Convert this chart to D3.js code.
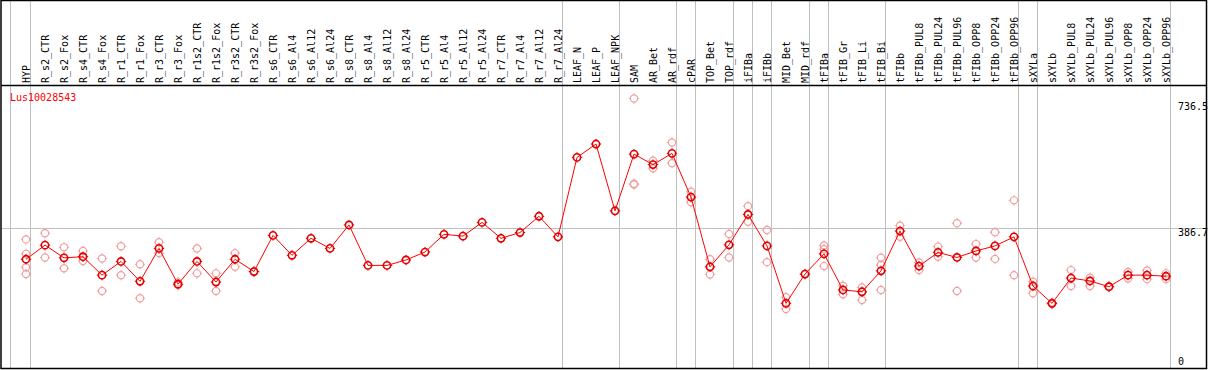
<!DOCTYPE html>
<html><head><meta charset="utf-8">
<script src="https://cdn.jsdelivr.net/npm/d3@7"></script>
<style>html,body{margin:0;padding:0;background:#fff;}svg{display:block;}</style>
</head><body>
<script>
const categories = ["HYP","R_s2_CTR","R_s2_Fox","R_s4_CTR","R_s4_Fox","R_r1_CTR","R_r1_Fox","R_r3_CTR","R_r3_Fox","R_r1s2_CTR","R_r1s2_Fox","R_r3s2_CTR","R_r3s2_Fox","R_s6_CTR","R_s6_Al4","R_s6_Al12","R_s6_Al24","R_s8_CTR","R_s8_Al4","R_s8_Al12","R_s8_Al24","R_r5_CTR","R_r5_Al4","R_r5_Al12","R_r5_Al24","R_r7_CTR","R_r7_Al4","R_r7_Al12","R_r7_Al24","LEAF_N","LEAF_P","LEAF_NPK","SAM","AR_Bet","AR_rdf","cPAR","TOP_Bet","TOP_rdf","iFIBa","iFIBb","MID_Bet","MID_rdf","tFIBa","tFIB_Gr","tFIB_Li","tFIB_Bi","tFIBb","tFIBb_PUL8","tFIBb_PUL24","tFIBb_PUL96","tFIBb_OPP8","tFIBb_OPP24","tFIBb_OPP96","sXYLa","sXYLb","sXYLb_PUL8","sXYLb_PUL24","sXYLb_PUL96","sXYLb_OPP8","sXYLb_OPP24","sXYLb_OPP96"];

const meanValues = [301,340,305,308,257,295,240,331,232,295,238,301,267,367,312,359,331,396,284,284,299,321,370,365,403,359,375,420,363,583,620,435,592,563,594,473,280,341,425,338,179,260,316,216,211,269,379,282,320,306,324,338,363,227,179,249,241,225,257,257,254];

const replicates = [
 [356,316,279,260],[373,306],[334,276],[324,296],[303,213],[337,257],[287,193],[348,318],[237,230],[331,262],[262,213],[318,280],[267,266],
 [],[],[],[],[],[],[],[],[],[],[],[],[],[],[],[],
 [],[],[],
 [746,510,508],[574,553],[624,567],[488,459],[301,259],[371,306],[448,405],[382,293],[196,163],[260],[339,329,282],[228,204],[223,188],[305,285,216],[394,363],[292,271],[336,308],[401,213],[343,306],[376,302],[464,257],
 [239,207],[181,177],[271,227],[250,227],[226,224],[266,248],[270,246],[262,246]
];

const groupEnds = ["HYP","R_r7_Al24","LEAF_NPK","AR_rdf","cPAR","TOP_rdf","iFIBa","iFIBb","MID_rdf","tFIBa","tFIB_Bi","tFIBb_OPP96","sXYLa","sXYLb_OPP96"];
const yTicks = [0, 386.7, 736.5];
const geneName = "Lus10028543";

const W = 1209, H = 370;
const svg = d3.select("body").append("svg").attr("width", W).attr("height", H);
const font = "'DejaVu Sans Mono', monospace";

const x = d3.scalePoint().domain(categories).range([26, 26 + 19*(categories.length-1)]);
const y = d3.scaleLinear().domain([0, 386.7]).range([368, 228.3]);

// vertical separators
svg.append("line").attr("x1",10.5).attr("x2",10.5).attr("y1",0).attr("y2",368).attr("stroke","#c0c0c0");
groupEnds.forEach(c => {
  const gx = Math.round(x(c) + 4) + 0.5;
  svg.append("line").attr("x1",gx).attr("x2",gx).attr("y1",0).attr("y2",368).attr("stroke","#c0c0c0");
});
// horizontal grid at middle tick
svg.append("line").attr("x1",2).attr("x2",1206).attr("y1",Math.round(y(386.7))+0.5).attr("y2",Math.round(y(386.7))+0.5).attr("stroke","#c0c0c0");

// category labels
svg.append("g").selectAll("text").data(categories).join("text")
  .attr("transform", d => `translate(${x(d)+4},83) rotate(-90)`)
  .attr("font-family", font).attr("font-size", 10).attr("fill","#000")
  .text(d => d);

// y tick labels
svg.append("g").selectAll("text").data(yTicks).join("text")
  .attr("x", 1178).attr("y", d => Math.min(y(d) + 8, 365))
  .attr("font-family", font).attr("font-size",10).attr("fill","#000")
  .text(d => d);

// frame
svg.append("rect").attr("x",1).attr("y",0.5).attr("width",1205.5).attr("height",368).attr("fill","none").attr("stroke","#000").attr("stroke-width",1.5);
svg.append("line").attr("x1",1).attr("x2",1206).attr("y1",85.5).attr("y2",85.5).attr("stroke","#000").attr("stroke-width",1.5);

// gene name
svg.append("text").attr("x",10).attr("y",101).attr("font-family",font).attr("font-size",10).attr("fill","#ff0000").text(geneName);

function marker(g, cx, cy, color, sw) {
  g.append("circle").attr("cx",cx).attr("cy",cy).attr("r",3.6).attr("fill","none").attr("stroke",color).attr("stroke-width",sw);
  [[0,-1],[0,1],[-1,0],[1,0]].forEach(([dx,dy]) => {
    g.append("line").attr("x1",cx+dx*3.6).attr("y1",cy+dy*3.6).attr("x2",cx+dx*5.2).attr("y2",cy+dy*5.2)
      .attr("stroke",color).attr("stroke-width",1);
  });
}

// replicates
const rg = svg.append("g");
replicates.forEach((arr,i) => arr.forEach(v => marker(rg, x(categories[i]), y(v), "#f0a0a0", 1.2)));

// mean line
svg.append("path").datum(meanValues)
  .attr("d", d3.line().x((d,i) => x(categories[i])).y(d => y(d)))
  .attr("fill","none").attr("stroke","#ff0000").attr("stroke-width",1);

const mg = svg.append("g");
meanValues.forEach((v,i) => marker(mg, x(categories[i]), y(v), "#e00000", 1.6));
</script>
</body></html>
